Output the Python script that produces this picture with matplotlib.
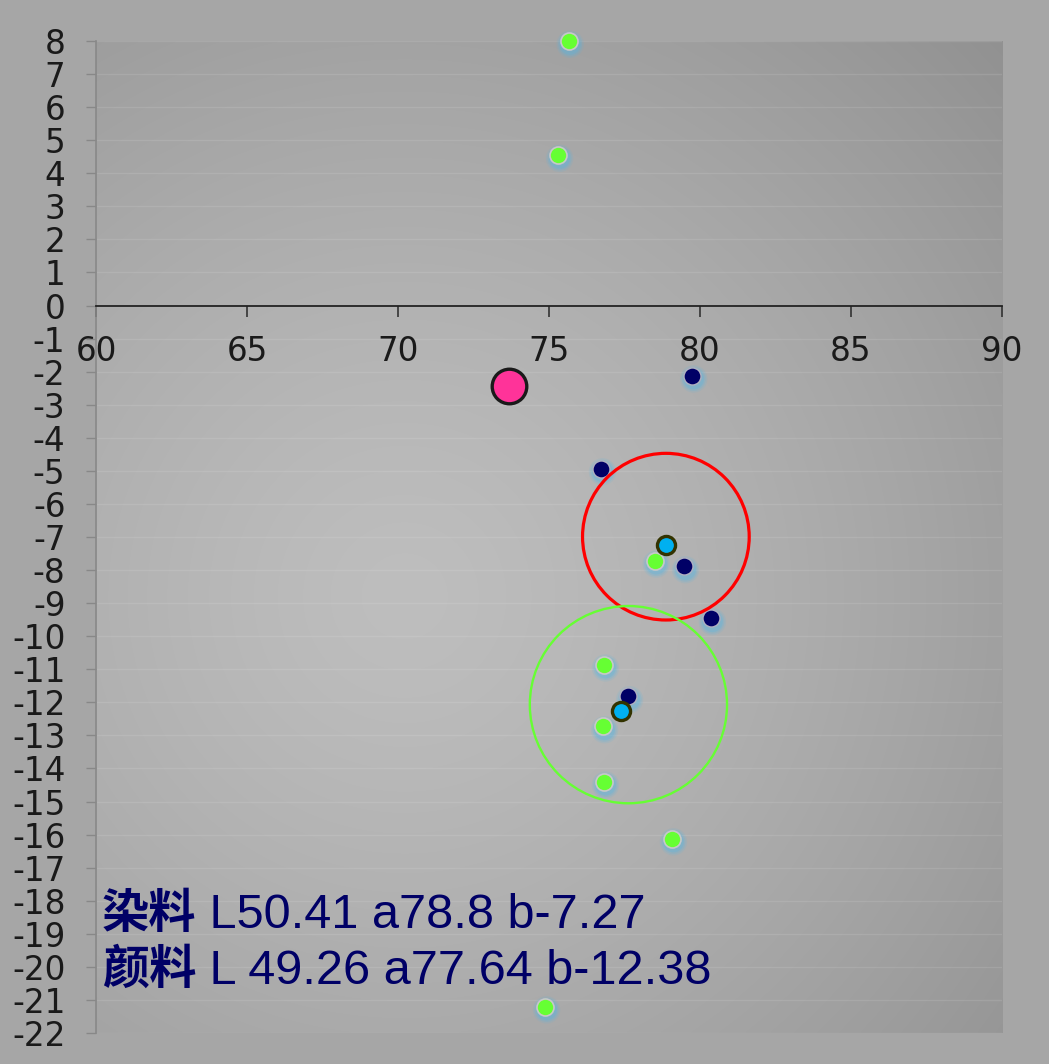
import matplotlib
matplotlib.use("Agg")
import matplotlib.pyplot as plt
import numpy as np

plt.rcParams['axes.unicode_minus'] = False

# ---- data ----
green_x = [75.65, 75.3, 78.5, 76.82, 76.79, 76.82, 79.07, 74.87]
green_y = [8.0, 4.55, -7.72, -10.86, -12.73, -14.4, -16.12, -21.2]
navy_x = [79.74, 76.72, 79.47, 80.36, 77.62]
navy_y = [-2.12, -4.93, -7.89, -9.46, -11.82]
mean_x = [78.87, 77.4]
mean_y = [-7.23, -12.27]
pink_x = [73.68]
pink_y = [-2.42]
ring_red = (78.87, -6.99)
ring_green = (77.63, -12.07)
label_lines = [("染料", " L50.41 a78.8 b-7.27"), ("颜料", " L 49.26 a77.64 b-12.38")]
xticks = list(range(60, 91, 5))
yticks = list(range(-22, 9, 1))

fig = plt.figure(figsize=(10.49, 10.64), dpi=100, facecolor='#a6a6a6')
ax = fig.add_axes([96/1049, 31/1064, 906/1049, 992/1064])
ax.set_xlim(60, 90)
ax.set_ylim(-22, 8)
ax.set_facecolor('none')

# radial gradient background
nx, ny = 400, 400
gx, gy = np.meshgrid(np.linspace(0, 1, nx), np.linspace(0, 1, ny))
cx, cy = 0.34, 0.44
r = np.sqrt(((gx - cx) * 906) ** 2 + ((gy - cy) * 992) ** 2)
r = r / r.max()
c = 0.745 - (0.745 - 0.57) * r ** 1.3
img = np.dstack([c, c, c])
ax.imshow(img, extent=[0, 1, 0, 1], transform=ax.transAxes, origin='lower',
          aspect='auto', zorder=0, interpolation='bilinear')

# grid
for yv in yticks:
    ax.axhline(yv, color='white', alpha=0.10, lw=1.0, zorder=1)

# spines
for s in ['top', 'right']:
    ax.spines[s].set_visible(False)
ax.spines['bottom'].set_position(('data', 0))
ax.spines['bottom'].set_color('#222222')
ax.spines['bottom'].set_linewidth(1.3)
ax.spines['left'].set_color('#888888')
ax.spines['left'].set_linewidth(1.2)

ax.set_xticks(xticks)
ax.set_yticks(yticks)
ax.set_xticklabels([str(v) for v in xticks])
ax.set_yticklabels([str(v) for v in yticks])
ax.tick_params(axis='x', direction='out', length=8, width=1.2, color='#333333',
               labelsize=23.5, labelcolor='#1a1a1a', pad=13)
ax.tick_params(axis='y', direction='out', length=7, width=1.0, color='#888888',
               labelsize=23.5, labelcolor='#1a1a1a', pad=15)
for lab in ax.get_xticklabels() + ax.get_yticklabels():
    lab.set_fontfamily('DejaVu Sans')

# glow helper
def glow(xs, ys, size):
    for k, a in [(2.6, 0.12), (2.0, 0.18), (1.5, 0.25)]:
        ax.scatter(np.array(xs) + 0.05, np.array(ys) - 0.1, s=size * k,
                   color='#4fb7e8', alpha=a, edgecolors='none', zorder=3,
                   clip_on=False)

glow(green_x, green_y, 150)
glow(navy_x, navy_y, 150)

ax.scatter(green_x, green_y, s=150, color='#66ff33', edgecolors='#c8c8c8',
           linewidths=1.2, zorder=4, clip_on=False)
ax.scatter(navy_x, navy_y, s=150, color='#000066', edgecolors='#b0b0c0',
           linewidths=1.0, zorder=4, clip_on=False)
ax.scatter(mean_x, mean_y, s=170, color='#00b0f0', edgecolors='#333300',
           linewidths=2.4, zorder=6)
ax.scatter(pink_x, pink_y, s=620, color='#ff3399', edgecolors='#1a1a1a',
           linewidths=2.4, zorder=6)

# rings
ax.scatter([ring_red[0]], [ring_red[1]], s=120 ** 2, facecolors='none',
           edgecolors='#ff0000', linewidths=2.3, zorder=5)
ax.scatter([ring_green[0]], [ring_green[1]], s=142 ** 2, facecolors='none',
           edgecolors='#66ff33', linewidths=1.7, zorder=5)

# annotation text
ybase = [928, 984]
for (cn, rest), yb in zip(label_lines, ybase):
    yf = 1 - yb / 1064
    t1 = fig.text(102 / 1049, yf, cn, fontsize=34, fontweight='bold',
                  color='#000066', family=['Noto Sans CJK SC', 'DejaVu Sans'],
                  va='baseline', ha='left')
    fig.canvas.draw()
    bb = t1.get_window_extent()
    fig.text(bb.x1 / 1049, yf, rest, fontsize=35, color='#000066',
             family='Liberation Sans', va='baseline', ha='left')

fig.savefig('out.png', dpi=100, facecolor=fig.get_facecolor())
